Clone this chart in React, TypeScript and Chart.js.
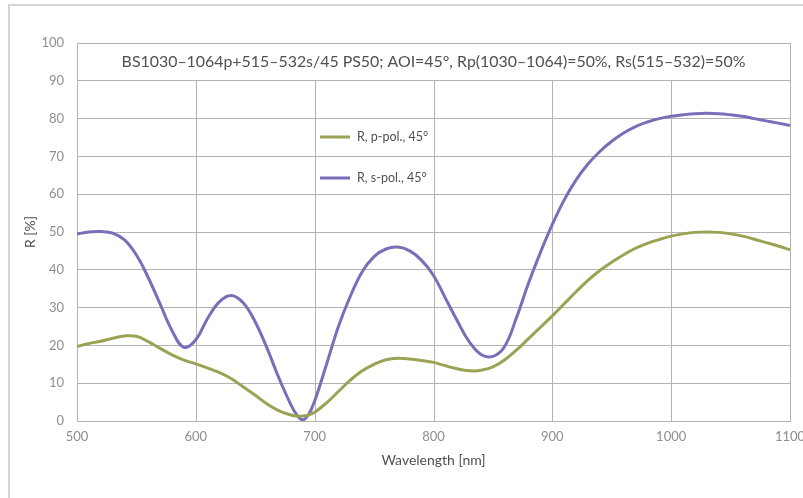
import React, { useEffect, useRef } from "react";
import Chart from "chart.js/auto";

const TITLE = "BS1030–1064p+515–532s/45 PS50; AOI=45°, Rp(1030–1064)=50%, Rs(515–532)=50%";
const X_LABEL = "Wavelength [nm]";
const Y_LABEL = "R [%]";
const SERIES_LABELS = ["R, p-pol., 45°", "R, s-pol., 45°"];
const X_TICKS = [500, 600, 700, 800, 900, 1000, 1100];

const wavelengths = [
  500, 510, 520, 530, 540, 550, 560, 570, 580, 590,
  600, 610, 620, 630, 640, 650, 660, 670, 680, 685, 690, 695,
  700, 710, 720, 730, 740, 750, 760, 770, 780, 790,
  800, 810, 820, 830, 840, 850, 860, 870, 880, 890,
  900, 910, 920, 930, 940, 950, 960, 970, 980, 990,
  1000, 1010, 1020, 1030, 1040, 1050, 1060, 1070, 1080, 1090, 1100,
];

const pPol = [
  19.7, 20.5, 21.1, 21.9, 22.5, 22.4, 21.0, 19.2, 17.5, 16.1,
  15.1, 14.0, 12.8, 11.2, 9.0, 6.8, 4.5, 2.7, 1.6, 1.3, 1.3, 1.6,
  2.3, 4.8, 7.8, 10.8, 13.3, 15.0, 16.2, 16.6, 16.4, 16.0,
  15.5, 14.6, 13.8, 13.3, 13.4, 14.3, 16.2, 18.8, 21.8, 24.8,
  27.8, 31.0, 34.2, 37.2, 39.8, 42.0, 44.0, 45.7, 47.0, 48.0,
  48.9, 49.5, 49.9, 50.0, 49.9, 49.5, 48.9, 48.1, 47.2, 46.3, 45.3,
];

const sPol = [
  49.5, 50.0, 50.1, 49.7, 47.9, 43.9, 37.9, 30.9, 23.9, 19.5,
  21.5, 27.2, 31.6, 33.2, 31.2, 26.2, 19.2, 11.3, 4.3, 1.6, 0.3, 1.8,
  5.3, 15.0, 25.0, 33.0, 39.5, 43.5, 45.5, 46.0, 45.0, 42.5,
  38.5, 32.5, 26.5, 21.0, 17.6, 17.1, 19.8, 27.5, 36.5, 44.6,
  52.0, 58.5, 63.8, 68.0, 71.3, 74.0, 76.2, 77.9, 79.1, 80.0,
  80.6, 81.0, 81.3, 81.4, 81.3, 81.0, 80.6, 80.0, 79.4, 78.8, 78.2,
];

const GREEN = "#9ba254";
const PURPLE = "#7c6db8";
const GRID = "#b3b3b3";
const TICK = "#8e8e8e";
const TEXT = "#505050";
const FONT = "Lato, 'Open Sans', sans-serif";

const overlay = {
  id: "overlay",
  beforeDatasetsDraw(chart: any) {
    const { ctx, chartArea, scales } = chart;
    const x = scales.x;
    const y = scales.y;
    ctx.save();
    ctx.strokeStyle = GRID;
    ctx.lineWidth = 1;
    for (const t of X_TICKS) {
      if (t === 500) continue;
      const px = Math.round(x.getPixelForValue(t)) + 0.5;
      const top = t === 1100 ? y.getPixelForValue(100) : y.getPixelForValue(90);
      ctx.beginPath();
      ctx.moveTo(px, top);
      ctx.lineTo(px, y.getPixelForValue(0));
      ctx.stroke();
    }
    ctx.fillStyle = TEXT;
    ctx.font = `15.9px ${FONT}`;
    ctx.textAlign = "center";
    ctx.textBaseline = "middle";
    const cy = (y.getPixelForValue(100) + y.getPixelForValue(90)) / 2;
    ctx.fillText(TITLE, (chartArea.left + chartArea.right) / 2, cy);
    ctx.restore();
  },
  afterDatasetsDraw(chart: any) {
    const { ctx, chartArea } = chart;
    ctx.save();
    const ds = chart.data.datasets;
    const rows = [chartArea.top + 94, chartArea.top + 135];
    ds.forEach((d: any, i: number) => {
      const yy = rows[i];
      const x0 = chartArea.left + 243;
      ctx.strokeStyle = d.borderColor;
      ctx.lineWidth = 3;
      ctx.beginPath();
      ctx.moveTo(x0, yy);
      ctx.lineTo(x0 + 30, yy);
      ctx.stroke();
      ctx.fillStyle = TEXT;
      ctx.font = `12.5px ${FONT}`;
      ctx.textAlign = "left";
      ctx.textBaseline = "middle";
      ctx.fillText(d.label, x0 + 37, yy);
    });
    ctx.restore();
  },
};

export default function App() {
  const ref = useRef<HTMLCanvasElement | null>(null);
  useEffect(() => {
    if (!ref.current) return;
    const chart = new Chart(ref.current, {
      type: "line",
      data: {
        datasets: [
          {
            label: SERIES_LABELS[0],
            data: wavelengths.map((w, i) => ({ x: w, y: pPol[i] })),
            borderColor: GREEN,
            backgroundColor: GREEN,
            borderWidth: 3,
            pointRadius: 0,
            tension: 0.4,
          },
          {
            label: SERIES_LABELS[1],
            data: wavelengths.map((w, i) => ({ x: w, y: sPol[i] })),
            borderColor: PURPLE,
            backgroundColor: PURPLE,
            borderWidth: 3,
            pointRadius: 0,
            tension: 0.4,
          },
        ],
      },
      options: {
        animation: false,
        responsive: false,
        maintainAspectRatio: false,
        layout: { padding: { left: 0, top: 43, right: 13, bottom: 0 } },
        plugins: {
          legend: { display: false },
          title: { display: false },
          tooltip: { enabled: false },
        },
        scales: {
          x: {
            type: "linear",
            min: 500,
            max: 1100,
            afterFit: (s: any) => {
              s.height = 77;
              s.paddingLeft = 0;
              s.paddingRight = 0;
            },
            afterBuildTicks: (s: any) => { s.ticks = X_TICKS.map((v) => ({ value: v })); },
            grid: { display: false, drawTicks: false },
            border: { display: true, color: GRID, width: 1 },
            ticks: {
              color: TICK,
              font: { family: FONT, size: 13 },
              padding: 8,
              maxRotation: 0,
              callback: (v: any) => String(v),
            },
            title: {
              display: true,
              text: X_LABEL,
              color: TEXT,
              font: { family: FONT, size: 14 },
              padding: { top: 0, bottom: 29 },
            },
          },
          y: {
            min: 0,
            max: 100,
            afterFit: (s: any) => {
              s.width = 77;
              s.paddingTop = 0;
              s.paddingBottom = 0;
            },
            grid: { color: GRID, lineWidth: 1, drawTicks: false },
            border: { display: true, color: GRID, width: 1 },
            ticks: {
              stepSize: 10,
              color: TICK,
              font: { family: FONT, size: 13 },
              padding: 13,
              callback: (v: any) => String(v),
            },
            title: {
              display: true,
              text: Y_LABEL,
              color: TEXT,
              font: { family: FONT, size: 14 },
              padding: { top: 22, bottom: 0 },
            },
          },
        },
      },
      plugins: [overlay],
    });
    return () => chart.destroy();
  }, []);

  return (
    <div style={{ position: "fixed", left: 0, top: 0, width: 803, height: 498, background: "#fff", overflow: "hidden" }}>
      <div
        style={{
          position: "absolute",
          left: 8,
          top: 4,
          width: 900,
          height: 600,
          borderTop: "2px solid #d4d4d4",
          borderLeft: "2px solid #d4d4d4",
        }}
      />
      <canvas ref={ref} width={803} height={498} style={{ position: "absolute", left: 0, top: 0 }} />
    </div>
  );
}
